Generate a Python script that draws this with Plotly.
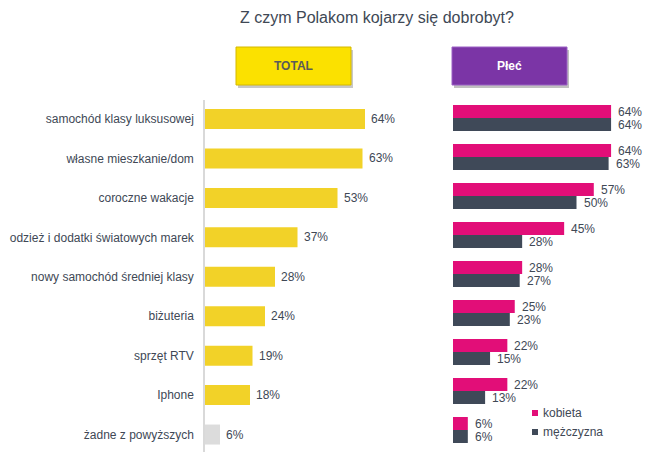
import plotly.graph_objects as go

categories = ["samochód klasy luksusowej", "własne mieszkanie/dom", "coroczne wakacje",
              "odzież i dodatki światowych marek", "nowy samochód średniej klasy",
              "biżuteria", "sprzęt RTV", "Iphone", "żadne z powyższych"]
total = [64, 63, 53, 37, 28, 24, 19, 18, 6]
kobieta = [64, 64, 57, 45, 28, 25, 22, 22, 6]
mezczyzna = [64, 63, 50, 28, 27, 23, 15, 13, 6]
title_text = "Z czym Polakom kojarzy się dobrobyt?"
header_left = "TOTAL"
header_right = "Płeć"
legend_names = ["kobieta", "mężczyzna"]

W, H = 655, 452
FONT = "Liberation Sans, Arial, sans-serif"
TXT = "#404855"
YEL = "#F2D228"
GRAY = "#DCDCDC"
PINK = "#E20E78"
DARK = "#3F4958"

def px(x):
    return x / W

def py(y):
    return 1 - y / H

idx = list(range(len(categories)))
fig = go.Figure()

bar_colors = [YEL] * (len(total) - 1) + [GRAY]
fig.add_trace(go.Bar(
    y=idx, x=total, orientation="h", marker=dict(color=bar_colors, line=dict(width=0)),
    width=0.507, xaxis="x", yaxis="y", showlegend=False, hoverinfo="skip"))

fig.add_trace(go.Bar(
    y=idx, x=kobieta, orientation="h", marker=dict(color=PINK, line=dict(width=0)),
    width=0.333, offset=-0.333, xaxis="x2", yaxis="y2", showlegend=False, hoverinfo="skip"))
fig.add_trace(go.Bar(
    y=idx, x=mezczyzna, orientation="h", marker=dict(color=DARK, line=dict(width=0)),
    width=0.333, offset=0.0, xaxis="x2", yaxis="y2", showlegend=False, hoverinfo="skip"))

lab_font = dict(family=FONT, size=12, color=TXT)
for i, v in zip(idx, total):
    fig.add_annotation(text=f"{v}%", x=v, y=i, xref="x", yref="y", showarrow=False,
                       xanchor="left", yanchor="middle", xshift=4, font=lab_font)
for i, v in zip(idx, kobieta):
    fig.add_annotation(text=f"{v}%", x=v, y=i - 0.1667, xref="x2", yref="y2", showarrow=False,
                       xanchor="left", yanchor="middle", xshift=5, font=lab_font)
for i, v in zip(idx, mezczyzna):
    fig.add_annotation(text=f"{v}%", x=v, y=i + 0.1667, xref="x2", yref="y2", showarrow=False,
                       xanchor="left", yanchor="middle", xshift=5, font=lab_font)

# axis geometry
ydom = [0, py(100)]
left_start = 205
right_start = 453
left_scale = 2.5
right_scale = 2.47
xr = 80

fig.update_layout(
    width=W, height=H, margin=dict(l=0, r=0, t=0, b=0),
    paper_bgcolor="white", plot_bgcolor="white",
    barmode="overlay", showlegend=False,
    font=dict(family=FONT, color=TXT),
    xaxis=dict(domain=[px(left_start), px(left_start + xr * left_scale)], range=[0, xr],
               visible=False, fixedrange=True),
    yaxis=dict(domain=ydom, range=[8.443, -0.482], tickmode="array", tickvals=idx,
               ticktext=categories, showgrid=False, zeroline=False,
               showline=True, linecolor="#D9D9D9", linewidth=1.5,
               ticks="outside", ticklen=7, tickcolor="rgba(0,0,0,0)",
               tickfont=dict(family=FONT, size=12, color=TXT), anchor="x"),
    xaxis2=dict(domain=[px(right_start), min(1.0, px(right_start + xr * right_scale))], range=[0, xr],
                visible=False, fixedrange=True),
    yaxis2=dict(domain=ydom, range=[8.564, -0.4615], visible=False, anchor="x2"),
)

# title
fig.add_annotation(text=title_text, x=px(377), y=py(17), xref="paper", yref="paper",
                   showarrow=False, font=dict(family=FONT, size=16, color=TXT),
                   xanchor="center", yanchor="middle")

# header boxes
def header(x0, x1, y0, y1, fill, border, shadow, label, tcolor):
    fig.add_shape(type="rect", xref="paper", yref="paper",
                  x0=px(x0 + 2), x1=px(x1 + 2), y0=py(y1 + 3), y1=py(y0 + 3),
                  fillcolor=shadow, line=dict(width=0), layer="below")
    fig.add_shape(type="rect", xref="paper", yref="paper",
                  x0=px(x0), x1=px(x1), y0=py(y1), y1=py(y0),
                  fillcolor=fill, line=dict(color=border, width=1))
    fig.add_annotation(text=f"<b>{label}</b>", x=px((x0 + x1) / 2), y=py((y0 + y1) / 2),
                       xref="paper", yref="paper", showarrow=False,
                       font=dict(family=FONT, size=12, color=tcolor),
                       xanchor="center", yanchor="middle")

header(236, 351, 47, 85, "#FBE100", "#D4B800", "#C8C8C8", header_left, "#5A5A5A")
header(452, 567, 47, 85, "#7B35A6", "#9B60C4", "#C0C0C0", header_right, "#FFFFFF")

# legend
leg = [(413, PINK, legend_names[0]), (432, DARK, legend_names[1])]
for yc, col, name in leg:
    fig.add_shape(type="rect", xref="paper", yref="paper",
                  x0=px(532), x1=px(538), y0=py(yc + 3), y1=py(yc - 3),
                  fillcolor=col, line=dict(width=0))
    fig.add_annotation(text=name, x=px(541), y=py(yc), xref="paper", yref="paper",
                       showarrow=False, font=dict(family=FONT, size=12, color=TXT),
                       xanchor="left", yanchor="middle")

fig.write_html("out.html")
